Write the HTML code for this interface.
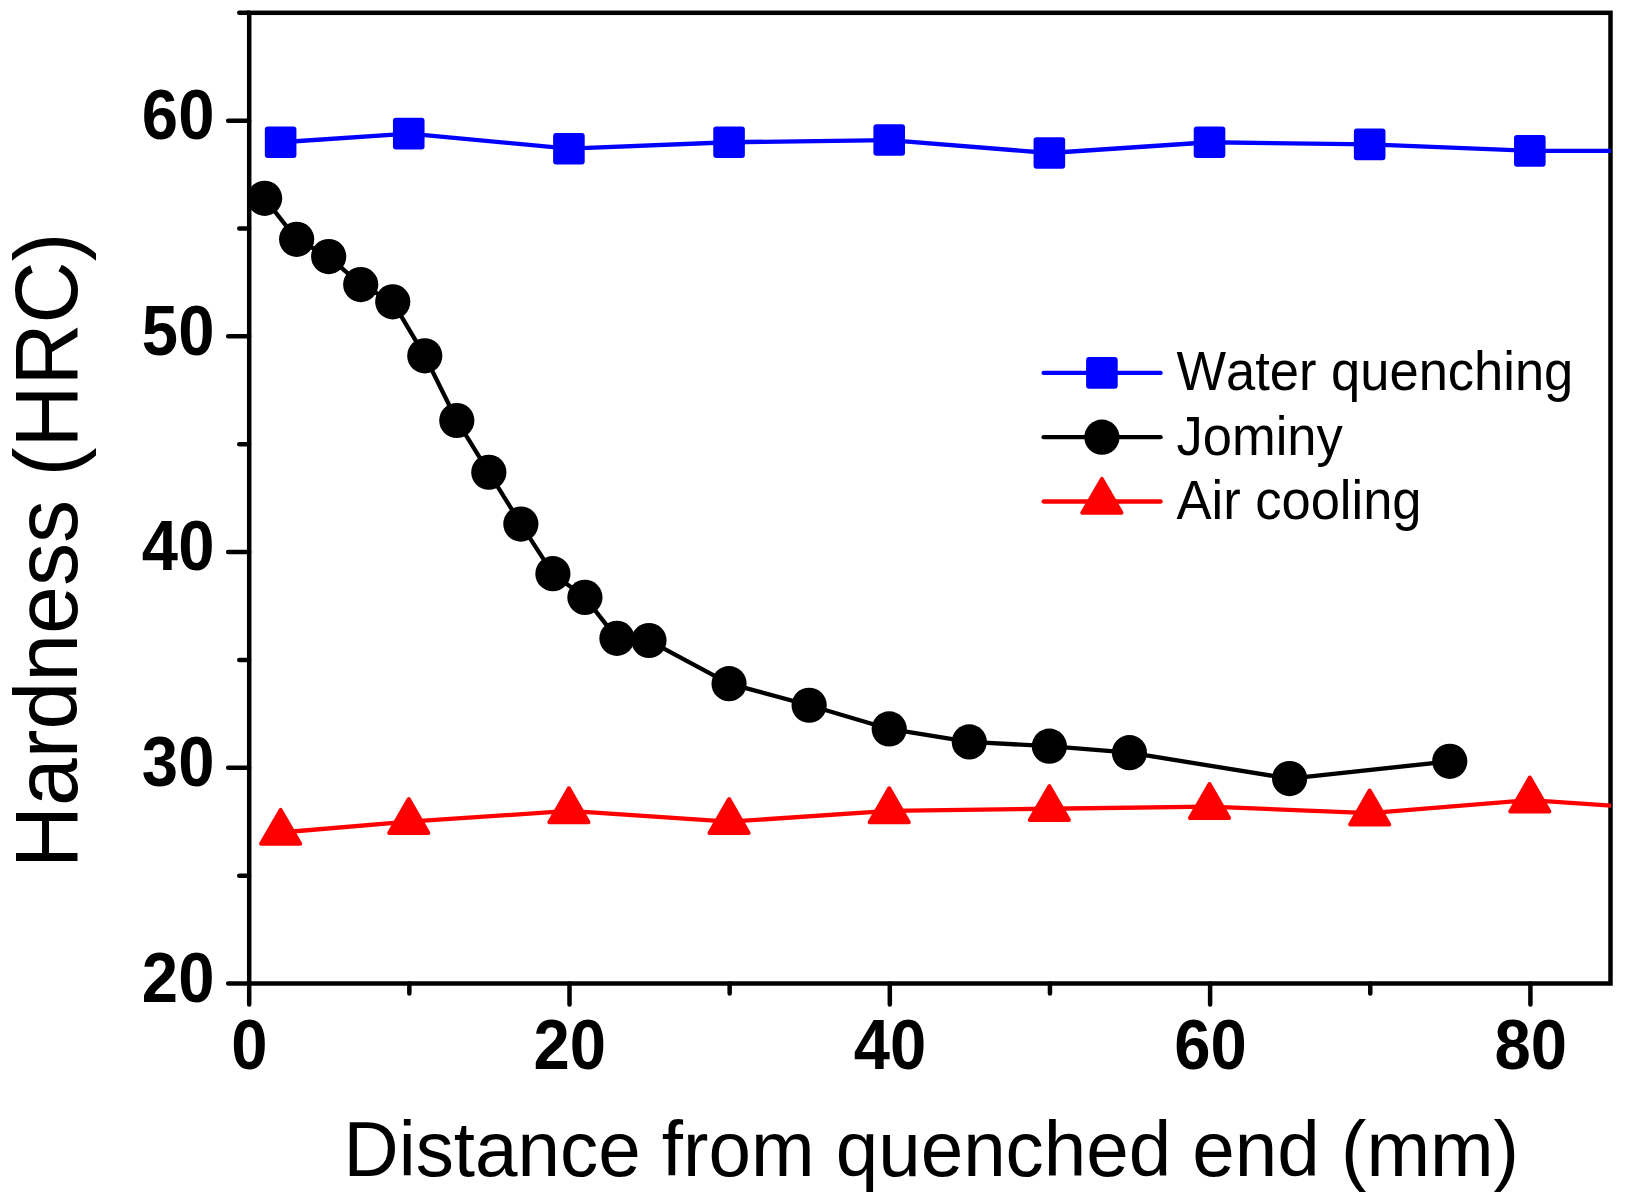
<!DOCTYPE html>
<html lang="en">
<head>
<meta charset="utf-8">
<title>Hardness vs distance from quenched end</title>
<style>
html,body{margin:0;padding:0;background:#fff;}
body{width:1625px;height:1202px;overflow:hidden;}
svg{display:block;}
text{font-family:"Liberation Sans",Arial,sans-serif;fill:#000;font-kerning:none;}
.tk{font-weight:bold;font-size:67px;}
.lg{font-size:50px;}
</style>
</head>
<body>
<svg width="1625" height="1202" viewBox="0 0 1625 1202">
<rect x="0" y="0" width="1625" height="1202" fill="#ffffff"/>
<defs><clipPath id="pc"><rect x="249.2" y="12.8" width="1361.8" height="970.7"/></clipPath></defs>
<rect x="249.2" y="12.8" width="1361.3" height="970.7" fill="none" stroke="#000" stroke-width="4.5"/>
<polyline clip-path="url(#pc)" points="280.63,142.23 408.75,133.6 568.91,148.7 729.06,142.23 889.21,140.07 1049.36,153.01 1209.52,142.23 1369.67,144.38 1529.82,150.86 1689.98,150.86" fill="none" stroke="#0000ff" stroke-width="4.3" stroke-linejoin="round"/>
<rect x="264.83" y="126.43" width="31.6" height="31.6" rx="3" ry="3" fill="#0000ff"/>
<rect x="392.95" y="117.8" width="31.6" height="31.6" rx="3" ry="3" fill="#0000ff"/>
<rect x="553.11" y="132.9" width="31.6" height="31.6" rx="3" ry="3" fill="#0000ff"/>
<rect x="713.26" y="126.43" width="31.6" height="31.6" rx="3" ry="3" fill="#0000ff"/>
<rect x="873.41" y="124.27" width="31.6" height="31.6" rx="3" ry="3" fill="#0000ff"/>
<rect x="1033.56" y="137.21" width="31.6" height="31.6" rx="3" ry="3" fill="#0000ff"/>
<rect x="1193.72" y="126.43" width="31.6" height="31.6" rx="3" ry="3" fill="#0000ff"/>
<rect x="1353.87" y="128.58" width="31.6" height="31.6" rx="3" ry="3" fill="#0000ff"/>
<rect x="1514.02" y="135.06" width="31.6" height="31.6" rx="3" ry="3" fill="#0000ff"/>
<polyline clip-path="url(#pc)" points="264.62,198.31 296.65,239.3 328.68,256.55 360.71,284.6 392.74,301.85 424.77,355.78 456.8,420.49 488.83,472.26 520.86,524.04 552.89,573.65 584.92,597.38 616.95,638.36 648.98,640.52 729.06,683.66 809.14,705.23 889.21,728.96 969.29,741.9 1049.36,746.22 1129.44,752.69 1289.59,778.57 1449.75,761.32" fill="none" stroke="#000000" stroke-width="4.3" stroke-linejoin="round"/>
<circle cx="264.62" cy="198.31" r="17.6" fill="#000"/>
<circle cx="296.65" cy="239.3" r="17.6" fill="#000"/>
<circle cx="328.68" cy="256.55" r="17.6" fill="#000"/>
<circle cx="360.71" cy="284.6" r="17.6" fill="#000"/>
<circle cx="392.74" cy="301.85" r="17.6" fill="#000"/>
<circle cx="424.77" cy="355.78" r="17.6" fill="#000"/>
<circle cx="456.8" cy="420.49" r="17.6" fill="#000"/>
<circle cx="488.83" cy="472.26" r="17.6" fill="#000"/>
<circle cx="520.86" cy="524.04" r="17.6" fill="#000"/>
<circle cx="552.89" cy="573.65" r="17.6" fill="#000"/>
<circle cx="584.92" cy="597.38" r="17.6" fill="#000"/>
<circle cx="616.95" cy="638.36" r="17.6" fill="#000"/>
<circle cx="648.98" cy="640.52" r="17.6" fill="#000"/>
<circle cx="729.06" cy="683.66" r="17.6" fill="#000"/>
<circle cx="809.14" cy="705.23" r="17.6" fill="#000"/>
<circle cx="889.21" cy="728.96" r="17.6" fill="#000"/>
<circle cx="969.29" cy="741.9" r="17.6" fill="#000"/>
<circle cx="1049.36" cy="746.22" r="17.6" fill="#000"/>
<circle cx="1129.44" cy="752.69" r="17.6" fill="#000"/>
<circle cx="1289.59" cy="778.57" r="17.6" fill="#000"/>
<circle cx="1449.75" cy="761.32" r="17.6" fill="#000"/>
<polyline clip-path="url(#pc)" points="280.63,832.5 408.75,821.72 568.91,810.93 729.06,821.72 889.21,810.93 1049.36,808.77 1209.52,806.62 1369.67,813.09 1529.82,800.15 1689.98,810.93" fill="none" stroke="#ff0000" stroke-width="4.3" stroke-linejoin="round"/>
<path d="M261.06 843.8L300.2 843.8L280.63 809.9Z" fill="#ff0000" stroke="#ff0000" stroke-width="4" stroke-linejoin="round"/>
<path d="M389.18 833.02L428.33 833.02L408.75 799.12Z" fill="#ff0000" stroke="#ff0000" stroke-width="4" stroke-linejoin="round"/>
<path d="M549.33 822.23L588.48 822.23L568.91 788.33Z" fill="#ff0000" stroke="#ff0000" stroke-width="4" stroke-linejoin="round"/>
<path d="M709.49 833.02L748.63 833.02L729.06 799.12Z" fill="#ff0000" stroke="#ff0000" stroke-width="4" stroke-linejoin="round"/>
<path d="M869.64 822.23L908.78 822.23L889.21 788.33Z" fill="#ff0000" stroke="#ff0000" stroke-width="4" stroke-linejoin="round"/>
<path d="M1029.79 820.07L1068.94 820.07L1049.36 786.17Z" fill="#ff0000" stroke="#ff0000" stroke-width="4" stroke-linejoin="round"/>
<path d="M1189.95 817.92L1229.09 817.92L1209.52 784.02Z" fill="#ff0000" stroke="#ff0000" stroke-width="4" stroke-linejoin="round"/>
<path d="M1350.1 824.39L1389.24 824.39L1369.67 790.49Z" fill="#ff0000" stroke="#ff0000" stroke-width="4" stroke-linejoin="round"/>
<path d="M1510.25 811.45L1549.4 811.45L1529.82 777.55Z" fill="#ff0000" stroke="#ff0000" stroke-width="4" stroke-linejoin="round"/>
<path d="M249.2 983.5H228.15M249.2 875.64H239.25M249.2 767.79H228.15M249.2 659.93H239.25M249.2 552.08H228.15M249.2 444.22H239.25M249.2 336.37H228.15M249.2 228.51H239.25M249.2 120.66H228.15M249.2 12.8H239.25M249.2 983.5V1004.55M409.35 983.5V993.45M569.51 983.5V1004.55M729.66 983.5V993.45M889.81 983.5V1004.55M1049.96 983.5V993.45M1210.12 983.5V1004.55M1370.27 983.5V993.45M1530.42 983.5V1004.55" fill="none" stroke="#000" stroke-width="4.5" stroke-linecap="round"/>
<text transform="translate(214.4 1001.8) scale(1 1.09)" text-anchor="end" font-size="65.2" font-weight="bold">20</text>
<text transform="translate(214.4 786.09) scale(1 1.09)" text-anchor="end" font-size="65.2" font-weight="bold">30</text>
<text transform="translate(214.4 570.38) scale(1 1.09)" text-anchor="end" font-size="65.2" font-weight="bold">40</text>
<text transform="translate(214.4 354.67) scale(1 1.09)" text-anchor="end" font-size="65.2" font-weight="bold">50</text>
<text transform="translate(214.4 138.96) scale(1 1.09)" text-anchor="end" font-size="65.2" font-weight="bold">60</text>
<text transform="translate(249.5 1069.4) scale(1 1.09)" text-anchor="middle" font-size="65.2" font-weight="bold">0</text>
<text transform="translate(569.81 1069.4) scale(1 1.09)" text-anchor="middle" font-size="65.2" font-weight="bold">20</text>
<text transform="translate(890.11 1069.4) scale(1 1.09)" text-anchor="middle" font-size="65.2" font-weight="bold">40</text>
<text transform="translate(1210.42 1069.4) scale(1 1.09)" text-anchor="middle" font-size="65.2" font-weight="bold">60</text>
<text transform="translate(1530.72 1069.4) scale(1 1.09)" text-anchor="middle" font-size="65.2" font-weight="bold">80</text>
<text transform="translate(931.3 1175.7) scale(1 1.03)" text-anchor="middle" font-size="76.35">Distance from quenched end (mm)</text>
<text transform="translate(77.3 550.4) rotate(-90) scale(1 1.03)" text-anchor="middle" font-size="86">Hardness (HRC)</text>
<line x1="1043.6" y1="372.9" x2="1160.6" y2="372.9" stroke="#0000ff" stroke-width="4.3" stroke-linecap="round"/>
<rect x="1086.1" y="357.1" width="31.6" height="31.6" rx="3" ry="3" fill="#0000ff"/>
<text transform="translate(1176.5 390.3) scale(1 1.04)" text-anchor="start" font-size="52.5">Water quenching</text>
<line x1="1043.6" y1="437.2" x2="1160.6" y2="437.2" stroke="#000000" stroke-width="4.3" stroke-linecap="round"/>
<circle cx="1101.9" cy="437.2" r="17.6" fill="#000"/>
<text transform="translate(1176.5 454.6) scale(1 1.04)" text-anchor="start" font-size="52.5">Jominy</text>
<line x1="1043.6" y1="501.5" x2="1160.6" y2="501.5" stroke="#ff0000" stroke-width="4.3" stroke-linecap="round"/>
<path d="M1082.33 512.8L1121.47 512.8L1101.9 478.9Z" fill="#ff0000" stroke="#ff0000" stroke-width="4" stroke-linejoin="round"/>
<text transform="translate(1176.5 518.9) scale(1 1.04)" text-anchor="start" font-size="52.5">Air cooling</text>
</svg>
</body>
</html>
